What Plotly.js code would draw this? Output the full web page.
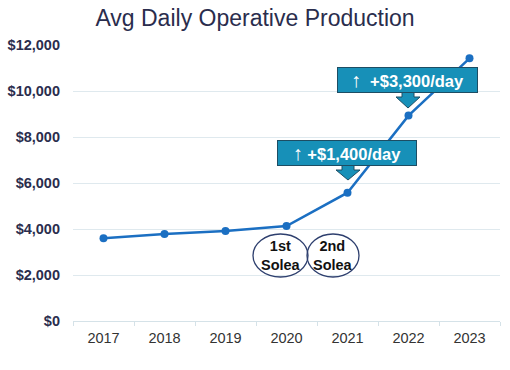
<!DOCTYPE html>
<html>
<head>
<meta charset="utf-8">
<script src="https://cdn.plot.ly/plotly-3.0.1.min.js"></script>
<style>html,body{margin:0;padding:0;background:#fff;}#chart{width:510px;height:370px;}</style>
</head>
<body>
<div id="chart"></div>
<script>
const years = ["2017","2018","2019","2020","2021","2022","2023"];
const production = [3600, 3780, 3910, 4130, 5580, 8930, 11420];
const yTickVals = [0, 2000, 4000, 6000, 8000, 10000, 12000];
const yTickText = ["$0","$2,000","$4,000","$6,000","$8,000","$10,000","$12,000"];
const callouts = ["+$3,300/day", "+$1,400/day"];
const milestones = ["1st<br>Solea", "2nd<br>Solea"];

const W = 510, H = 370;
const M = {l: 73, r: 10, t: 45, b: 49};
const PW = W - M.l - M.r, PH = H - M.t - M.b;
const px = v => (v - M.l) / PW;
const py = v => (H - M.b - v) / PH;

const teal = "#1790b8", tealBorder = "#1d4d63";
const FONT = "Liberation Sans, Arial, sans-serif";
const upArrow = "<span style='font-size:20px'>\u2191</span>";

function arrowPath(cx, top, tip) {
  const sw = 6, hw = 12, mid = top + 5;
  return `M ${px(cx - sw)} ${py(top)} L ${px(cx - sw)} ${py(mid)} L ${px(cx - hw)} ${py(mid)} L ${px(cx)} ${py(tip)} L ${px(cx + hw)} ${py(mid)} L ${px(cx + sw)} ${py(mid)} L ${px(cx + sw)} ${py(top)} Z`;
}

const shapes = [
  {type: "path", xref: "paper", yref: "paper", path: arrowPath(408, 92, 108), fillcolor: teal, line: {color: tealBorder, width: 1}},
  {type: "path", xref: "paper", yref: "paper", path: arrowPath(348, 165, 180), fillcolor: teal, line: {color: tealBorder, width: 1}},
  {type: "circle", xref: "paper", yref: "paper", x0: px(253), x1: px(308), y0: py(277), y1: py(234), line: {color: "#2e3f6e", width: 1.3}, fillcolor: "rgba(255,255,255,0)"},
  {type: "circle", xref: "paper", yref: "paper", x0: px(307), x1: px(359), y0: py(277), y1: py(234), line: {color: "#2e3f6e", width: 1.3}, fillcolor: "rgba(255,255,255,0)"}
];

const boxFont = {family: FONT, size: 16.5, color: "#ffffff", weight: 600};
const solFont = {family: FONT, size: 14.5, color: "#111", weight: "bold"};
const annotations = [
  {xref: "paper", yref: "paper", x: px(407.5), y: py(80), xanchor: "center", yanchor: "middle", text: upArrow + "  " + callouts[0], showarrow: false, font: boxFont, bgcolor: teal, bordercolor: tealBorder, borderwidth: 1, borderpad: 0, width: 139, height: 24},
  {xref: "paper", yref: "paper", x: px(347), y: py(153), xanchor: "center", yanchor: "middle", text: upArrow + " " + callouts[1], showarrow: false, font: boxFont, bgcolor: teal, bordercolor: tealBorder, borderwidth: 1, borderpad: 0, width: 138, height: 24},
  {xref: "paper", yref: "paper", x: px(280.5), y: py(255), xanchor: "center", yanchor: "middle", text: milestones[0], showarrow: false, font: solFont},
  {xref: "paper", yref: "paper", x: px(333), y: py(255), xanchor: "center", yanchor: "middle", text: milestones[1], showarrow: false, font: solFont}
];

const trace = {
  x: years, y: production, type: "scatter", mode: "lines+markers",
  line: {color: "#1b6fc2", width: 2.5},
  marker: {color: "#1b6fc2", size: 8},
  hoverinfo: "skip", cliponaxis: false
};

const layout = {
  width: W, height: H,
  margin: M,
  paper_bgcolor: "#ffffff", plot_bgcolor: "#ffffff",
  showlegend: false,
  title: {text: "Avg Daily Operative Production", x: 0.5, xanchor: "center", y: 0.952, yanchor: "middle",
          font: {family: FONT, size: 23, color: "#2a2d4d"}},
  xaxis: {type: "category", tickson: "boundaries", ticks: "outside", ticklen: 4, tickcolor: "#d5e2e8",
          showgrid: false, showline: true, linecolor: "#d5e2e8", linewidth: 1, zeroline: false,
          ticklabelstandoff: 4,
          tickfont: {family: FONT, size: 14.5, color: "#333"}, range: [-0.5, 6.5]},
  yaxis: {range: [0, 12000], tickvals: yTickVals, ticktext: yTickText, showgrid: true, gridcolor: "#dfe9ee", gridwidth: 1,
          zeroline: false, showline: false, ticks: "", ticklabelstandoff: 12,
          tickfont: {family: FONT, size: 14.5, color: "#2a2d4d", weight: "bold"}},
  shapes: shapes,
  annotations: annotations
};

Plotly.newPlot("chart", [trace], layout, {displayModeBar: false, staticPlot: true});
</script>
</body>
</html>
